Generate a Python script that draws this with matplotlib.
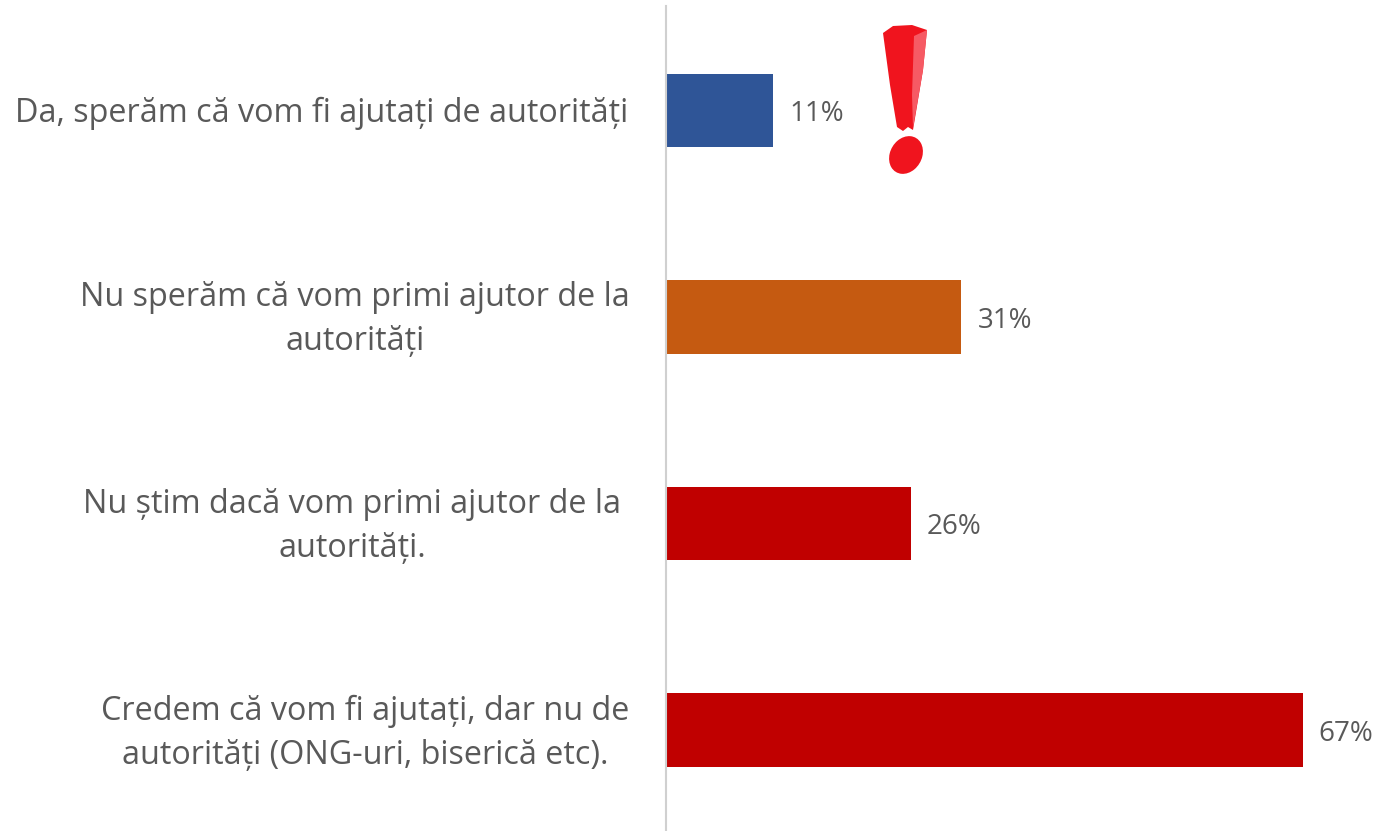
import matplotlib
matplotlib.use("Agg")
from matplotlib import pyplot as plt
from matplotlib.patches import Polygon, Ellipse

plt.rcParams['font.family'] = ['Open Sans', 'DejaVu Sans']

W, H = 1378, 831
labels = ["Da, sperăm că vom fi ajutați de autorități",
          "Nu sperăm că vom primi ajutor de la\nautorități",
          "Nu știm dacă vom primi ajutor de la\nautorități.",
          "Credem că vom fi ajutați, dar nu de\nautorități (ONG-uri, biserică etc)."]
values = [11.3, 31.1, 25.8, 67]
value_labels = ["11%", "31%", "26%", "67%"]
colors = ["#2F5597", "#C55A11", "#C00000", "#C00000"]
label_centers = [321.5, 355, 352.5, 365]


def px(x, y):
    return x / W, 1 - y / H


fig = plt.figure(figsize=(W/100, H/100), dpi=100)
ax = fig.add_axes([666/W, 0, 1 - 666/W, 1 - 6/H])
ax.set_xlim(0, (W - 666) / 9.5)
ax.set_ylim(3.489, -0.505)
ax.barh(range(4), values, height=0.355, color=colors)
for i, v in enumerate(values):
    y = ax.transData.transform((0, i))[1]
    fig.text((666 + v * 9.5 + 16) / W, (y - 4) / H, value_labels[i], va="center", ha="left", fontsize=20, color="#595959")

ax.set_yticks([])
ax.set_xticks([])
for s in ["top", "right", "bottom"]:
    ax.spines[s].set_visible(False)
ax.spines["left"].set_color("#D0D0D0")
ax.spines["left"].set_linewidth(1.5)

# category labels, centred like the original text boxes
for i, lab in enumerate(labels):
    y = ax.transData.transform((0, i))[1]
    fig.text(label_centers[i]/W, (y - 3)/H, lab, ha="center", va="center", fontsize=23.3, color="#595959", linespacing=1.44)

# red exclamation mark
RED = "#F0141E"
stroke = [(883, 33), (893, 26), (912, 25), (927, 30), (923, 70), (913, 130), (908, 127), (903, 131), (897, 127), (890, 85)]
fig.add_artist(Polygon([px(*p) for p in stroke], closed=True, transform=fig.transFigure, color=RED, lw=0, zorder=5))
light = [(914, 36), (927, 30), (923, 70), (913, 128), (912, 95)]
fig.add_artist(Polygon([px(*p) for p in light], closed=True, transform=fig.transFigure, color="#F65A64", lw=0, zorder=6))
dot = Ellipse(px(906, 155), 33/W, 38/H, angle=-8, transform=fig.transFigure, color=RED, lw=0, zorder=5)
fig.add_artist(dot)

plt.savefig("out.png", dpi=100)
